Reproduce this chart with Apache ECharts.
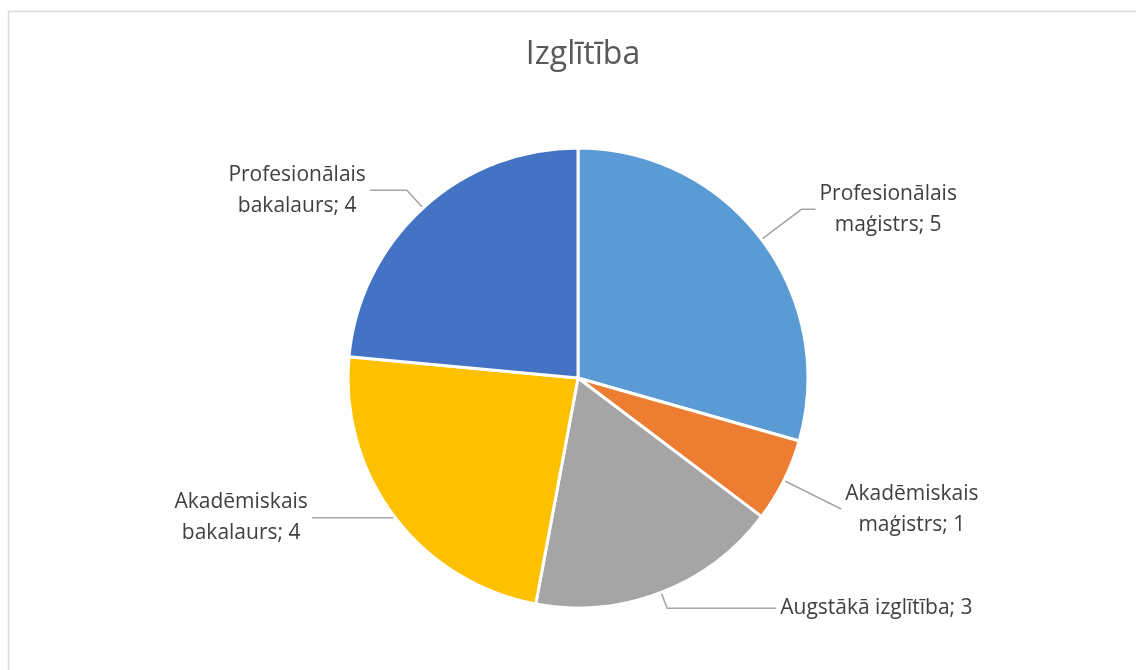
<!DOCTYPE html>
<html>
<head>
<meta charset="utf-8">
<script src="https://cdn.jsdelivr.net/npm/echarts@6/dist/echarts.min.js"></script>
<style>
  html, body { margin: 0; padding: 0; background: #fff; }
  #chart { width: 1136px; height: 670px; }
</style>
</head>
<body>
<div id="chart"></div>
<script>
// dati no attēla
const categories = ['Profesionālais maģistrs', 'Akadēmiskais maģistrs', 'Augstākā izglītība', 'Akadēmiskais bakalaurs', 'Profesionālais bakalaurs'];
const values = [5, 1, 3, 4, 4];
const colors = ['#5B9BD5', '#ED7D31', '#A5A5A5', '#FFC000', '#4472C4'];
// līniju garumi katrai etiķetei (length, length2)
const lineLen = [[50, 14], [64, 0], [17, 109], [2, 81], [24, 37]];

const chart = echarts.init(document.getElementById('chart'));

const pieData = categories.map((name, i) => ({
  name: name,
  value: values[i],
  itemStyle: { color: colors[i] },
  labelLine: { length: lineLen[i][0], length2: lineLen[i][1] }
}));

const option = {
  animation: false,
  title: {
    text: 'Izglītība',
    left: 578,
    textAlign: 'center',
    top: 34,
    textStyle: { fontFamily: 'Open Sans', fontSize: 32, fontWeight: 'normal', color: '#595959' }
  },
  graphic: [{
    type: 'rect',
    shape: { x: 8.5, y: 11.5, width: 1200, height: 800 },
    style: { fill: 'none', stroke: '#D9D9D9', lineWidth: 1.5 },
    silent: true
  }],
  series: [{
    type: 'pie',
    center: [578, 378],
    radius: 230,
    startAngle: 90,
    clockwise: true,
    avoidLabelOverlap: false,
    data: pieData,
    itemStyle: { borderColor: '#fff', borderWidth: 3 },
    label: {
      show: true,
      position: 'outside',
      alignTo: 'none',
      distanceToLabelLine: 4,
      fontFamily: 'Open Sans',
      fontSize: 21,
      lineHeight: 31,
      color: '#404040',
      formatter: p => {
        const txt = p.name + '; ' + p.value;
        if (p.dataIndex === 2) return '{c|' + txt + '}';
        const k = txt.indexOf(' ');
        return '{c|' + txt.slice(0, k) + '}\n{c|' + txt.slice(k + 1) + '}';
      },
      rich: {
        c: { align: 'center', fontFamily: 'Open Sans', fontSize: 21, lineHeight: 31, color: '#404040' }
      }
    },
    labelLine: {
      show: true,
      smooth: false,
      lineStyle: { color: '#A6A6A6', width: 1.6 }
    },
    emphasis: { disabled: true }
  }]
};

chart.setOption(option);
</script>
</body>
</html>
